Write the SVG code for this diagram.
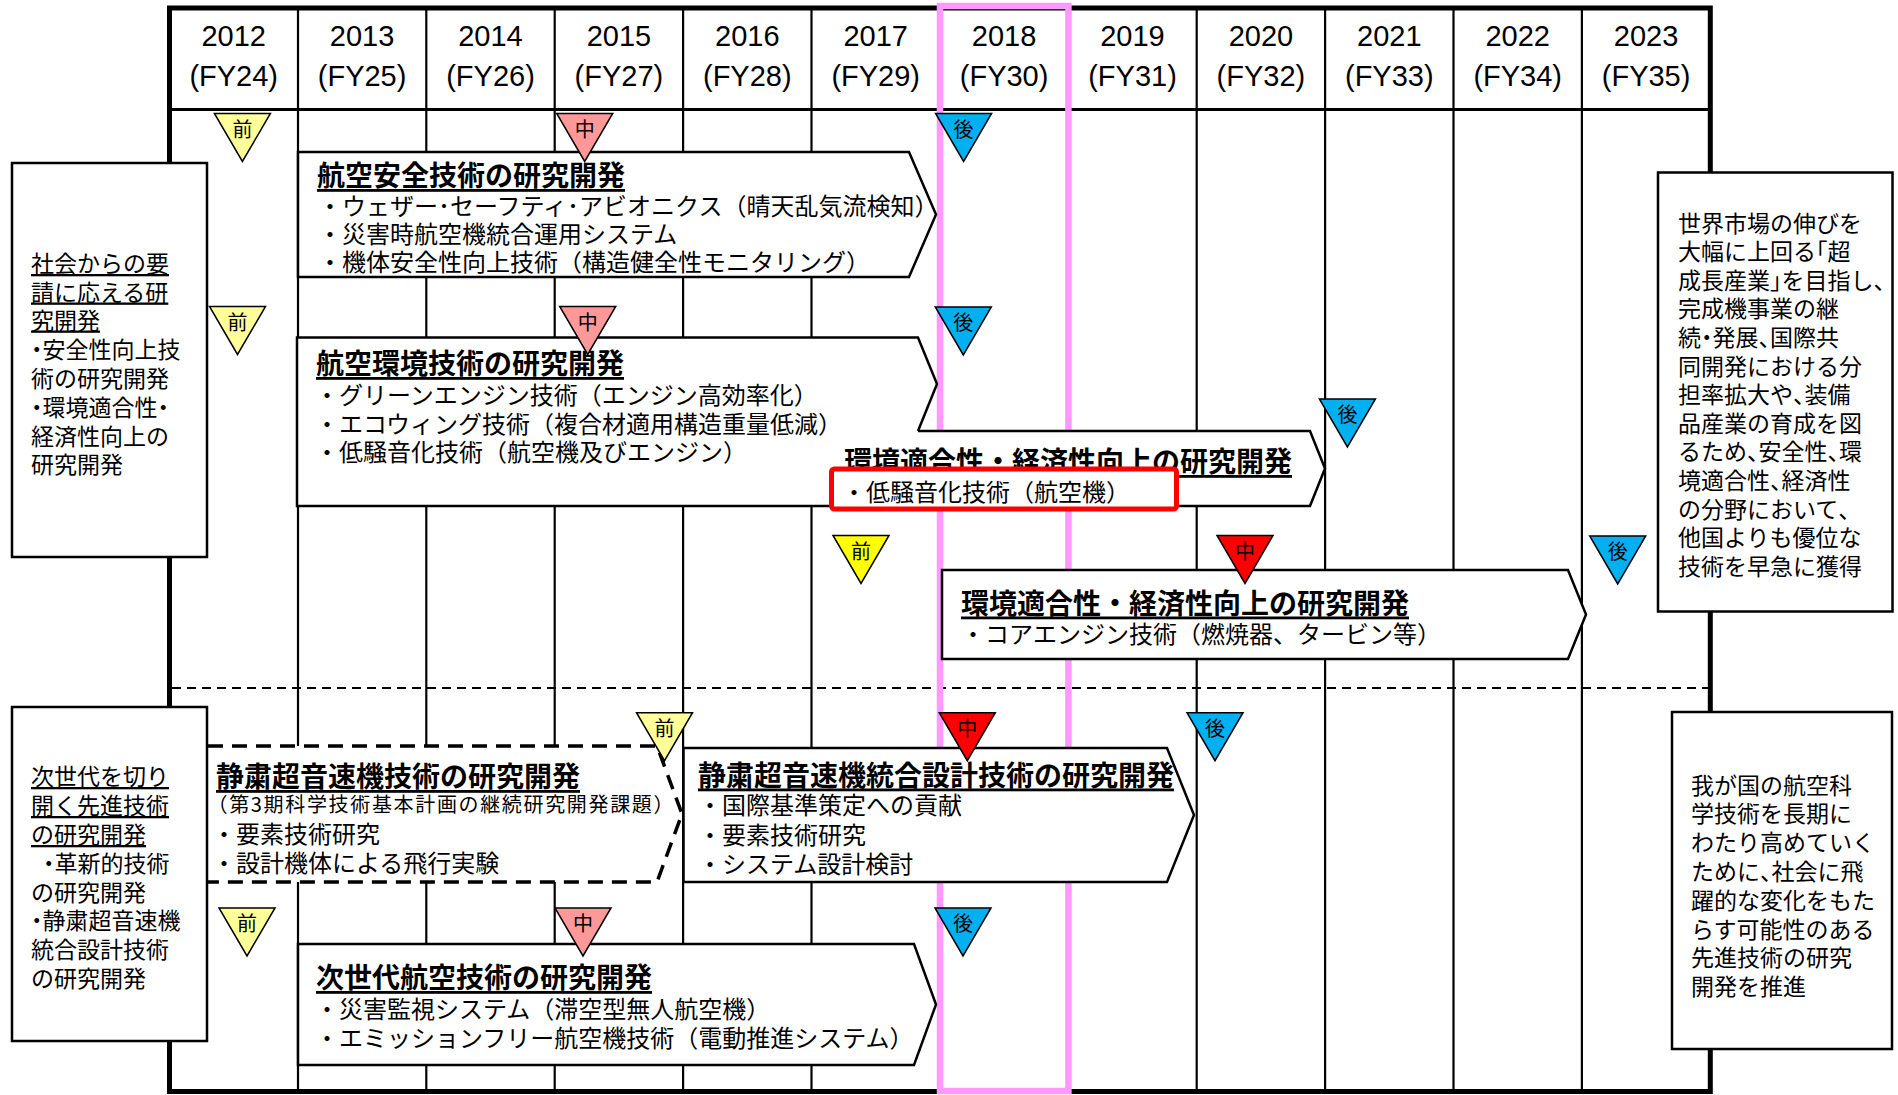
<svg xmlns="http://www.w3.org/2000/svg" xmlns:xlink="http://www.w3.org/1999/xlink" width="1898" height="1095" viewBox="0 0 1898 1095">
<style>
.frame{fill:none;stroke:#000;stroke-width:5}
.col{stroke:#000;stroke-width:2.2}
.hl{stroke:#000;stroke-width:3}
.sep{stroke:#000;stroke-width:2;stroke-dasharray:9 6}
.pink{fill:none;stroke:#FF99FF;stroke-width:6.5}
.hd{font-family:"Liberation Sans","Noto Sans CJK JP",sans-serif;font-size:29px;text-anchor:middle;dominant-baseline:central;fill:#000}
.arrow{fill:#fff;stroke:#000;stroke-width:2.5;stroke-linejoin:miter}
.dash{fill:#fff;stroke:#000;stroke-width:3.5;stroke-dasharray:15 9}
.tt{font-family:"Noto Sans CJK JP",sans-serif;font-size:28px;font-weight:bold;text-decoration:underline;dominant-baseline:central;fill:#000}
.it{font-family:"Noto Sans CJK JP",sans-serif;font-size:24px;dominant-baseline:central;fill:#000}
.sub{font-size:20px}
.box{fill:#fff;stroke:#000;stroke-width:2.5}
.sd{font-family:"Noto Sans CJK JP",sans-serif;font-size:23px;dominant-baseline:central;fill:#000}
.u{text-decoration:underline}
.h{font-feature-settings:"halt" 1}
.red{fill:#fff;stroke:#FF0000;stroke-width:5}
.tri{stroke:#000;stroke-width:1.5}
.ly{fill:#FFFF99}.lp{fill:#FF9999}.bl{fill:#00B0F0}.yl{fill:#FFFF00}.rd{fill:#FF0000}
.tl{font-family:"Noto Sans CJK JP",sans-serif;font-size:20px;text-anchor:middle;dominant-baseline:central;fill:#000}
</style>
<defs>
<polygon id="tri" points="-28,0 28,0 0,48"/>
</defs>
<rect x="0" y="0" width="1898" height="1095" fill="#fff"/>
<g id="grid">
<line class="col" x1="298" y1="8" x2="298" y2="1092"/>
<line class="col" x1="426.3" y1="8" x2="426.3" y2="1092"/>
<line class="col" x1="554.7" y1="8" x2="554.7" y2="1092"/>
<line class="col" x1="683.1" y1="8" x2="683.1" y2="1092"/>
<line class="col" x1="811.5" y1="8" x2="811.5" y2="1092"/>
<line class="col" x1="939.9" y1="8" x2="939.9" y2="1092"/>
<line class="col" x1="1068.3" y1="8" x2="1068.3" y2="1092"/>
<line class="col" x1="1196.7" y1="8" x2="1196.7" y2="1092"/>
<line class="col" x1="1325.1" y1="8" x2="1325.1" y2="1092"/>
<line class="col" x1="1453.5" y1="8" x2="1453.5" y2="1092"/>
<line class="col" x1="1581.9" y1="8" x2="1581.9" y2="1092"/>
<line class="hl" x1="169.5" y1="109.5" x2="1710.3" y2="109.5"/>
<line class="sep" x1="172" y1="688" x2="1708" y2="688"/>
<rect class="frame" x="169.5" y="8" width="1540.8" height="1083.5"/>
</g>
<rect id="highlight-2018" class="pink" x="940" y="6" width="128.4" height="1085"/>
<g id="header">
<text class="hd" x="233.7" y="36">2012</text><text class="hd" x="233.7" y="76">(FY24)</text>
<text class="hd" x="362.1" y="36">2013</text><text class="hd" x="362.1" y="76">(FY25)</text>
<text class="hd" x="490.5" y="36">2014</text><text class="hd" x="490.5" y="76">(FY26)</text>
<text class="hd" x="618.9" y="36">2015</text><text class="hd" x="618.9" y="76">(FY27)</text>
<text class="hd" x="747.3" y="36">2016</text><text class="hd" x="747.3" y="76">(FY28)</text>
<text class="hd" x="875.7" y="36">2017</text><text class="hd" x="875.7" y="76">(FY29)</text>
<text class="hd" x="1004.1" y="36">2018</text><text class="hd" x="1004.1" y="76">(FY30)</text>
<text class="hd" x="1132.5" y="36">2019</text><text class="hd" x="1132.5" y="76">(FY31)</text>
<text class="hd" x="1260.9" y="36">2020</text><text class="hd" x="1260.9" y="76">(FY32)</text>
<text class="hd" x="1389.3" y="36">2021</text><text class="hd" x="1389.3" y="76">(FY33)</text>
<text class="hd" x="1517.7" y="36">2022</text><text class="hd" x="1517.7" y="76">(FY34)</text>
<text class="hd" x="1646.1" y="36">2023</text><text class="hd" x="1646.1" y="76">(FY35)</text>
</g>
<g id="connectors"></g>
<g id="a1-safety">
<path class="arrow" d="M298,152 H909 L936,214.5 L909,277 H298 Z"/>
<text class="tt" x="317" y="174">航空安全技術の研究開発</text>
<text class="it" x="318" y="204">・ウェザー･セーフティ･アビオニクス（晴天乱気流検知）</text>
<text class="it" x="318" y="232">・災害時航空機統合運用システム</text>
<text class="it" x="318" y="260">・機体安全性向上技術（構造健全性モニタリング）</text>
</g>
<g id="a3-env-noise">
<path class="arrow" d="M918,431 H1310 L1325,468.5 L1310,506 H297 V431"/>
<text class="tt" x="844" y="460">環境適合性・経済性向上の研究開発</text>
<rect class="red" x="831.5" y="469" width="345" height="40" rx="3"/>
<text class="it" x="842" y="490.5">・低騒音化技術（航空機）</text>
</g>
<g id="a2-env">
<path class="arrow" d="M297,431 V337.5 H918 L937,384 L918,431"/>
<text class="tt" x="316" y="362">航空環境技術の研究開発</text>
<text class="it" x="315" y="393">・グリーンエンジン技術（エンジン高効率化）</text>
<text class="it" x="315" y="422">・エコウィング技術（複合材適用構造重量低減）</text>
<text class="it" x="315" y="450">・低騒音化技術（航空機及びエンジン）</text>
</g>
<g id="c2-core-engine">
<path class="arrow" d="M942,570 H1568 L1586,614.5 L1568,659 H942 Z"/>
<text class="tt" x="961" y="601.5">環境適合性・経済性向上の研究開発</text>
<text class="it" x="961" y="632">・コアエンジン技術（燃焼器、タービン等）</text>
</g>
<g id="b1-sst">
<path class="dash" d="M208,746 H657 L682,814 L657,882 H208"/>
<text class="tt" x="216" y="775">静粛超音速機技術の研究開発</text>
<text class="it sub" x="207.5" y="803" textLength="466" lengthAdjust="spacing">（第3期科学技術基本計画の継続研究開発課題）</text>
<text class="it" x="212" y="832">・要素技術研究</text>
<text class="it" x="212" y="861">・設計機体による飛行実験</text>
</g>
<g id="b2-sst-integrated">
<path class="arrow" d="M683.5,748 H1167 L1194,815 L1167,882 H683.5 Z"/>
<text class="tt" x="698" y="773.5">静粛超音速機統合設計技術の研究開発</text>
<text class="it" x="698" y="803.5">・国際基準策定への貢献</text>
<text class="it" x="698" y="833">・要素技術研究</text>
<text class="it" x="698" y="862">・システム設計検討</text>
</g>
<g id="b3-next-gen">
<path class="arrow" d="M298,944 H914 L936,1004.5 L914,1065 H298 Z"/>
<text class="tt" x="316" y="976">次世代航空技術の研究開発</text>
<text class="it" x="315" y="1007">・災害監視システム（滞空型無人航空機）</text>
<text class="it" x="315" y="1036">・エミッションフリー航空機技術（電動推進システム）</text>
</g>
<g id="left-box-1">
<rect class="box" x="12" y="163" width="195" height="394"/>
<text class="sd u" x="31" y="262">社会からの要</text>
<text class="sd u" x="31" y="290.5">請に応える研</text>
<text class="sd u" x="31" y="318.5">究開発</text>
<text class="sd" x="31" y="347.5"><tspan class="h">・</tspan>安全性向上技</text>
<text class="sd" x="31" y="376.5">術の研究開発</text>
<text class="sd" x="31" y="405.5"><tspan class="h">・</tspan>環境適合性<tspan class="h">・</tspan></text>
<text class="sd" x="31" y="434.5">経済性向上の</text>
<text class="sd" x="31" y="463">研究開発</text>
</g>
<g id="left-box-2">
<rect class="box" x="12" y="707" width="195" height="334"/>
<text class="sd u" x="31" y="775">次世代を切り</text>
<text class="sd u" x="31" y="804">開く先進技術</text>
<text class="sd u" x="31" y="833">の研究開発</text>
<text class="sd" x="43" y="862"><tspan class="h">・</tspan>革新的技術</text>
<text class="sd" x="31" y="890.5">の研究開発</text>
<text class="sd" x="31" y="919"><tspan class="h">・</tspan>静粛超音速機</text>
<text class="sd" x="31" y="948">統合設計技術</text>
<text class="sd" x="31" y="976.5">の研究開発</text>
</g>
<g id="right-box-1">
<rect class="box" x="1658" y="172.5" width="234.5" height="439"/>
<text class="sd" x="1678" y="221.5">世界市場の伸びを</text>
<text class="sd" x="1678" y="250.1">大幅に上回る<tspan class="h">「</tspan>超</text>
<text class="sd" x="1678" y="278.7">成長産業<tspan class="h">」</tspan>を目指し<tspan class="h">、</tspan></text>
<text class="sd" x="1678" y="307.3">完成機事業の継</text>
<text class="sd" x="1678" y="335.9">続<tspan class="h">・</tspan>発展<tspan class="h">、</tspan>国際共</text>
<text class="sd" x="1678" y="364.5">同開発における分</text>
<text class="sd" x="1678" y="393.1">担率拡大や<tspan class="h">、</tspan>装備</text>
<text class="sd" x="1678" y="421.7">品産業の育成を図</text>
<text class="sd" x="1678" y="450.3">るため<tspan class="h">、</tspan>安全性<tspan class="h">、</tspan>環</text>
<text class="sd" x="1678" y="478.9">境適合性<tspan class="h">、</tspan>経済性</text>
<text class="sd" x="1678" y="507.5">の分野において<tspan class="h">、</tspan></text>
<text class="sd" x="1678" y="536.1">他国よりも優位な</text>
<text class="sd" x="1678" y="564.7">技術を早急に獲得</text>
</g>
<g id="right-box-2">
<rect class="box" x="1672" y="712" width="220" height="337"/>
<text class="sd" x="1691" y="783.5">我が国の航空科</text>
<text class="sd" x="1691" y="812.3">学技術を長期に</text>
<text class="sd" x="1691" y="841.1">わたり高めていく</text>
<text class="sd" x="1691" y="869.9">ために<tspan class="h">、</tspan>社会に飛</text>
<text class="sd" x="1691" y="898.7">躍的な変化をもた</text>
<text class="sd" x="1691" y="927.5">らす可能性のある</text>
<text class="sd" x="1691" y="956.3">先進技術の研究</text>
<text class="sd" x="1691" y="985.1">開発を推進</text>
</g>
<g id="milestones">
<use href="#tri" class="tri ly" x="242.4" y="113.5"/><text class="tl" x="242.4" y="128">前</text>
<use href="#tri" class="tri lp" x="584.7" y="113.5"/><text class="tl" x="584.7" y="128">中</text>
<use href="#tri" class="tri bl" x="963.6" y="113.5"/><text class="tl" x="963.6" y="128">後</text>
<use href="#tri" class="tri ly" x="237.5" y="306.5"/><text class="tl" x="237.5" y="321">前</text>
<use href="#tri" class="tri lp" x="587.7" y="306.5"/><text class="tl" x="587.7" y="321">中</text>
<use href="#tri" class="tri bl" x="963.3" y="307"/><text class="tl" x="963.3" y="321.5">後</text>
<use href="#tri" class="tri bl" x="1347.4" y="399"/><text class="tl" x="1347.4" y="413.5">後</text>
<use href="#tri" class="tri yl" x="861" y="535.5"/><text class="tl" x="861" y="550">前</text>
<use href="#tri" class="tri rd" x="1245" y="535.5"/><text class="tl" x="1245" y="550">中</text>
<use href="#tri" class="tri bl" x="1617.7" y="536"/><text class="tl" x="1617.7" y="550.5">後</text>
<use href="#tri" class="tri ly" x="664.5" y="712.7"/><text class="tl" x="664.5" y="727">前</text>
<use href="#tri" class="tri rd" x="967.3" y="712.7"/><text class="tl" x="967.3" y="727">中</text>
<use href="#tri" class="tri bl" x="1215" y="712.7"/><text class="tl" x="1215" y="727">後</text>
<use href="#tri" class="tri ly" x="247" y="908"/><text class="tl" x="247" y="922.5">前</text>
<use href="#tri" class="tri lp" x="583" y="908"/><text class="tl" x="583" y="922.5">中</text>
<use href="#tri" class="tri bl" x="963" y="908"/><text class="tl" x="963" y="922.5">後</text>
</g>
</svg>
